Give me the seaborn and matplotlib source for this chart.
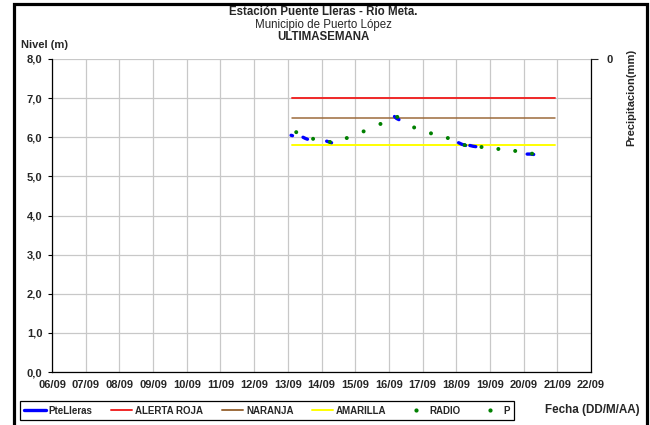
import matplotlib
matplotlib.use("Agg")
import matplotlib.pyplot as plt
import matplotlib.dates as mdates
from matplotlib.lines import Line2D
from matplotlib.patches import Rectangle
from matplotlib.ticker import FuncFormatter, MultipleLocator
import pandas as pd
import seaborn as sns

# --- datos ---
# PteLleras: tramos cortos del sensor (tramo = segmento continuo)
pte_fecha = ["2013-09-13 02:20", "2013-09-13 03:20",
             "2013-09-13 10:50", "2013-09-13 12:30", "2013-09-13 14:00",
             "2013-09-14 03:40", "2013-09-14 05:20", "2013-09-14 07:10",
             "2013-09-16 04:00", "2013-09-16 05:30", "2013-09-16 07:10",
             "2013-09-18 01:40", "2013-09-18 04:00", "2013-09-18 06:40",
             "2013-09-18 09:40", "2013-09-18 12:00", "2013-09-18 13:55",
             "2013-09-20 02:30", "2013-09-20 04:50", "2013-09-20 07:10"]
pte_nivel = [6.05, 6.04, 6.00, 5.97, 5.95, 5.90, 5.88, 5.86, 6.53, 6.48, 6.45,
             5.86, 5.82, 5.79, 5.79, 5.77, 5.76, 5.57, 5.57, 5.56]
pte_tramo = [1, 1, 2, 2, 2, 3, 3, 3, 4, 4, 4, 5, 5, 5, 6, 6, 6, 7, 7, 7]

# lecturas RADIO (6am / 6pm)
radio_fecha = ["2013-09-13 06:00", "2013-09-13 18:00", "2013-09-14 06:00",
               "2013-09-14 18:00", "2013-09-15 06:00", "2013-09-15 18:00",
               "2013-09-16 06:00", "2013-09-16 18:00", "2013-09-17 06:00",
               "2013-09-17 18:00", "2013-09-18 06:00", "2013-09-18 18:00",
               "2013-09-19 06:00", "2013-09-19 18:00", "2013-09-20 06:00"]
radio_nivel = [6.13, 5.96, 5.88, 5.98, 6.15, 6.34, 6.52, 6.25, 6.10, 5.98,
               5.80, 5.75, 5.70, 5.65, 5.58]

# umbrales de alerta
umbral_nombre = ["ALERTA ROJA", "NARANJA", "AMARILLA"]
umbral_nivel = [7.0, 6.5, 5.8]
umbral_color = ["#F02828", "#9C6B3C", "#FFFF00"]
umbral_inicio = "2013-09-13 02:40"
umbral_fin = "2013-09-20 22:20"

x_min, x_max = "2013-09-06", "2013-09-22"

# --- tablas ---
df_pte = pd.DataFrame({"fecha": pd.to_datetime(pte_fecha), "nivel": pte_nivel, "tramo": pte_tramo})
df_radio = pd.DataFrame({"fecha": pd.to_datetime(radio_fecha), "nivel": radio_nivel})
df_umb = pd.DataFrame({
    "fecha": pd.to_datetime([umbral_inicio, umbral_fin] * len(umbral_nivel)),
    "nivel": [v for v in umbral_nivel for _ in range(2)],
    "serie": [n for n in umbral_nombre for _ in range(2)],
})

sns.set_style("white")
plt.rcParams["font.family"] = ["Liberation Sans", "DejaVu Sans"]
plt.rcParams["font.weight"] = "bold"

fig = plt.figure(figsize=(6.5, 4.25), dpi=100)
ax = fig.add_axes([52 / 650, 1 - 372 / 425, (591 - 52) / 650, (372 - 59) / 425])

sns.lineplot(data=df_umb, x="fecha", y="nivel", hue="serie",
             palette=dict(zip(umbral_nombre, umbral_color)), legend=False,
             linewidth=1.4, ax=ax, zorder=3)
for l, lw in zip(ax.get_lines(), [1.4, 1.1, 1.4]):
    l.set_linewidth(lw)
sns.lineplot(data=df_pte, x="fecha", y="nivel", units="tramo", estimator=None,
             color="#0000FF", linewidth=2.4, ax=ax, zorder=4,
             solid_capstyle="round")
sns.scatterplot(data=df_radio, x="fecha", y="nivel", color="#008000", s=8,
                marker="o", edgecolor="none", ax=ax, zorder=5)

ax.set_xlim(pd.Timestamp(x_min), pd.Timestamp(x_max))
ax.set_ylim(0, 8)
ax.xaxis.set_major_locator(mdates.DayLocator())
ax.xaxis.set_major_formatter(mdates.DateFormatter("%d/%m"))
ax.yaxis.set_major_locator(MultipleLocator(1))
ax.yaxis.set_major_formatter(FuncFormatter(lambda v, p: f"{v:.1f}".replace(".", ",")))
ax.grid(True, color="#C8C8C8", linewidth=0.9)
ax.set_xlabel("")
ax.set_ylabel("")
for s in ["left", "bottom", "right"]:
    ax.spines[s].set_color("black")
    ax.spines[s].set_linewidth(0.9)
ax.spines["top"].set_visible(False)
ax.tick_params(axis="both", which="major", direction="out", length=3,
               width=0.8, color="black", labelsize=8, pad=3)
ax.tick_params(axis="y", pad=4)
for t in ax.get_xticklabels() + ax.get_yticklabels():
    t.set_fontweight("bold")

# eje de precipitacion (invertido, solo el 0 arriba)
ax2 = ax.twinx()
ax2.set_ylim(100, 0)
ax2.set_yticks([0])
ax2.set_yticklabels(["0"], fontweight="bold", fontsize=8)
ax2.tick_params(axis="y", direction="out", length=5, width=0.8, pad=6)
for s in ax2.spines.values():
    s.set_visible(False)

# titulos
fig.text(0.497, 1 - 12 / 425, "Estación Puente Lleras - Río Meta.", ha="center", va="center",
         fontsize=8.3, fontweight="bold")
fig.text(0.497, 1 - 25 / 425, "Municipio de Puerto López", ha="center", va="center",
         fontsize=8.3, fontweight="normal")
fig.text(0.497, 1 - 37 / 425, "ULTIMASEMANA", ha="center", va="center",
         fontsize=8.3, fontweight="bold")
fig.text(21 / 650, 1 - 45 / 425, "Nivel (m)", ha="left", va="center",
         fontsize=8, fontweight="bold")
fig.text(631 / 650, 1 - 97 / 425, "Precipitacion(mm)", ha="center", va="center",
         rotation=90, fontsize=8, fontweight="bold")
fig.text(640 / 650, 1 - 410 / 425, "Fecha (DD/M/AA)", ha="right", va="center",
         fontsize=8.4, fontweight="bold")

# leyenda
handles = [
    Line2D([], [], color="#0000FF", lw=2.4),
    Line2D([], [], color=umbral_color[0], lw=1.4),
    Line2D([], [], color=umbral_color[1], lw=1.4),
    Line2D([], [], color=umbral_color[2], lw=1.4),
    Line2D([], [], color="#008000", ls="none", marker="o", ms=2),
    Line2D([], [], color="#008000", ls="none", marker="o", ms=2),
]
labels = ["PteLleras"] + umbral_nombre + ["RADIO", "P"]
leg = fig.legend(handles, labels, loc="center", bbox_to_anchor=(267 / 650, 1 - 410.5 / 425),
                 ncol=6, fontsize=7, frameon=True, fancybox=False, framealpha=1,
                 edgecolor="black", handlelength=2.2, handletextpad=0.3,
                 columnspacing=1.9, borderpad=0.45)
leg.get_frame().set_linewidth(0.9)
for t in leg.get_texts():
    t.set_fontweight("bold")

# marco exterior
fig.add_artist(Rectangle((13.5 / 650, -0.05), (647 - 13.5) / 650, 1.05 - 4.5 / 425,
                         transform=fig.transFigure, fill=False, edgecolor="black",
                         linewidth=2.3, clip_on=False))

fig.savefig("out.png", dpi=100)
